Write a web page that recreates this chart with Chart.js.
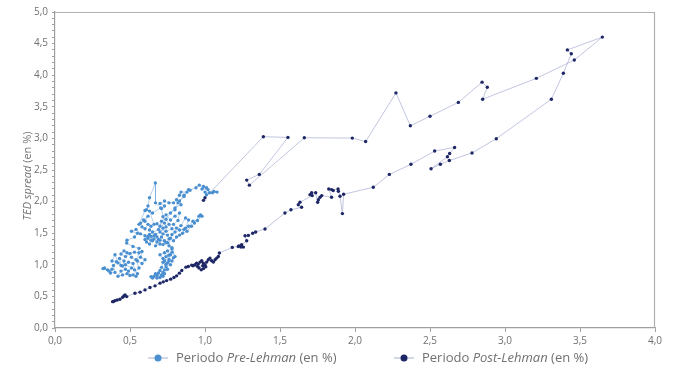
<!DOCTYPE html>
<html>
<head>
<meta charset="utf-8">
<script src="https://cdn.jsdelivr.net/npm/chart.js@4/dist/chart.umd.min.js"></script>
<style>
  html, body { margin: 0; padding: 0; background: #fff; }
  #wrap { width: 673px; height: 371px; position: relative; }
</style>
</head>
<body>
<div id="wrap"><canvas id="myChart" width="673" height="371"></canvas></div>
<script>
// Pre-Lehman period (x, y pairs in %)
const preX = [
  0.33,0.35,0.32,0.36,0.38,0.37,0.40,0.39,0.41,0.38,0.40,0.42,0.44,0.43,0.46,0.45,0.47,0.44,0.42,0.45,
  0.48,0.50,0.49,0.51,0.47,0.49,0.52,0.53,0.55,0.54,0.52,0.56,0.54,0.51,0.48,0.46,0.44,0.47,0.50,0.53,
  0.56,0.58,0.57,0.60,0.58,0.55,
  0.56,0.52,0.478,0.48,0.53,0.55,0.51,0.54,0.57,0.60,0.62,0.61,0.63,0.65,0.64,0.66,0.68,0.67,0.70,0.69,
  0.71,0.73,0.72,0.74,0.76,0.75,0.72,0.70,0.67,0.65,0.63,0.64,0.62,0.60,0.58,0.57,0.60,0.62,0.59,0.56,
  0.60,0.61,0.62,0.63,0.669,0.67,0.705,0.65,0.63,0.66,0.68,0.70,0.71,0.72,0.74,0.73,0.72,0.71,0.73,0.70,
  0.73,0.76,0.79,0.81,0.83,0.84,0.88,0.86,0.82,0.80,
  0.74,0.77,0.80,0.83,0.82,0.79,0.81,0.84,0.87,0.89,0.87,0.85,0.81,0.79,0.83,0.88,0.91,0.93,0.96,0.97,
  0.98,0.95,0.92,0.89,0.86,0.83,0.80,0.78,0.77,0.76,0.78,0.75,
  0.77,0.79,0.78,0.76,0.74,0.73,0.75,0.77,0.74,0.72,0.71,0.73,0.72,0.70,0.69,0.71,0.68,0.67,0.66,0.64,
  0.65,0.68,0.70,0.72,0.73,0.75,0.74,0.76,0.72,0.70,0.73,0.76,0.78,0.80,
  0.78,0.75,0.70,0.68,0.66,0.64,0.62,0.60,0.63,0.69,0.74,0.78,0.76,0.74,0.77,0.80,0.84,0.83,0.86,0.89,
  0.90,0.94,0.962,0.99,1.01,0.98,1.02,1.03,1.06,1.08,1.05,1.00,1.01
];
const preY = [
  0.95,0.92,0.94,0.90,0.93,0.87,0.88,0.99,1.05,1.06,1.16,1.03,0.99,1.10,1.06,0.98,0.93,0.90,0.82,0.84,
  0.86,0.83,0.90,0.95,1.00,1.04,1.02,0.92,0.86,0.82,0.84,0.95,1.08,1.12,1.19,1.22,1.17,1.13,1.18,1.20,
  1.19,1.21,1.12,1.08,1.02,1.06,
  1.26,1.29,1.344,1.39,1.44,1.50,1.53,1.56,1.49,1.46,1.42,1.36,1.33,1.38,1.45,1.41,1.36,1.30,1.33,1.40,
  1.44,1.38,1.32,1.35,1.41,1.47,1.49,1.52,1.48,1.52,1.55,1.61,1.64,1.57,1.60,1.66,1.69,1.77,1.71,1.64,
  1.86,1.87,1.93,2.06,2.296,1.98,1.90,1.82,1.85,1.64,1.65,1.61,1.69,1.58,1.60,1.66,1.76,1.89,1.93,1.97,
  2.01,1.98,1.98,2.03,2.10,2.15,2.15,2.08,1.98,1.87,
  1.79,1.71,1.77,1.82,1.70,1.64,1.58,1.62,1.74,1.71,1.58,1.50,1.44,1.38,1.47,1.53,1.61,1.66,1.77,1.79,
  1.77,1.70,1.69,1.61,1.56,1.55,1.52,1.48,1.42,1.30,1.25,1.22,
  1.16,1.11,1.06,1.09,1.13,1.06,1.03,1.00,0.97,1.04,0.96,0.92,0.88,0.91,0.87,0.84,0.83,0.86,0.82,0.81,
  0.79,0.79,0.80,0.82,0.86,0.93,1.01,1.06,1.10,1.16,1.19,1.15,1.20,1.13,
  1.27,1.35,1.39,1.44,1.46,1.39,1.45,1.40,1.48,1.56,1.53,1.57,1.64,1.72,1.82,1.90,1.95,2.01,2.10,2.19,
  2.18,2.22,2.26,2.24,2.22,2.20,2.19,2.14,2.16,2.15,2.14,2.15,2.11
];

// Post-Lehman period
const postX = [
  0.99,1.00,1.389,1.553,1.362,1.278,1.296,1.662,1.982,2.071,2.273,2.369,2.50,2.689,2.847,2.882,2.851,3.209,3.462,3.649,
  3.416,3.442,3.389,3.309,2.942,2.78,2.629,2.569,2.507,2.616,2.631,2.664,2.531,2.373,2.229,2.122,1.924,1.916,1.90,1.889,
  1.887,1.855,1.844,1.825,1.844,1.778,1.767,1.756,1.751,1.738,1.711,1.70,1.715,1.633,1.622,1.644,1.573,1.533,1.40,1.338,
  1.318,1.289,1.267,1.278,1.244,1.227,1.24,1.256,1.222,1.182,1.096,1.089,1.078,1.067,1.056,1.044,1.033,1.022,1.011,1.00,
  0.989,0.978,0.967,0.955,0.944,0.933,0.96,0.975,0.99,1.005,0.985,0.95,0.92,0.911,0.889,0.873,0.845,0.829,0.811,0.793,
  0.771,0.744,0.722,0.70,0.667,0.633,0.60,0.567,0.533,0.478,0.467,0.46,0.451,0.433,0.415,0.40,0.39,0.384
];
const postY = [
  2.02,2.06,3.027,3.016,2.43,2.34,2.26,3.01,3.005,2.95,3.72,3.20,3.35,3.57,3.89,3.81,3.62,3.95,4.24,4.603,
  4.40,4.34,4.03,3.62,2.995,2.77,2.65,2.59,2.52,2.71,2.76,2.857,2.80,2.59,2.43,2.227,2.116,1.81,2.085,2.164,
  2.20,2.175,2.19,2.20,2.07,2.095,2.07,2.03,1.99,2.14,2.14,2.11,2.095,1.99,1.95,1.91,1.87,1.82,1.567,1.52,
  1.50,1.465,1.46,1.38,1.317,1.30,1.28,1.28,1.29,1.275,1.186,1.132,1.106,1.079,1.043,1.063,1.106,1.079,1.043,1.00,
  1.027,1.063,1.043,1.011,1.027,1.00,0.95,0.92,0.94,0.97,0.985,0.975,0.985,0.995,0.973,0.963,0.91,0.868,0.825,0.80,
  0.773,0.75,0.73,0.71,0.667,0.64,0.603,0.567,0.55,0.497,0.524,0.508,0.487,0.456,0.444,0.433,0.42,0.417
];

const xTicks = [0, 0.5, 1, 1.5, 2, 2.5, 3, 3.5, 4];
const yTitle = [{ t: 'TED spread', i: true }, { t: ' (en %)', i: false }];
const legendItems = [
  { parts: [{ t: 'Periodo ', i: false }, { t: 'Pre-Lehman', i: true }, { t: ' (en %)', i: false }], color: '#4a8fd0' },
  { parts: [{ t: 'Periodo ', i: false }, { t: 'Post-Lehman', i: true }, { t: ' (en %)', i: false }], color: '#1d2766' }
];

function toPoints(xs, ys) {
  return xs.map(function (x, k) { return { x: x, y: ys[k] }; });
}
function fmt(v) { return v.toFixed(1).replace('.', ','); }

const FONT = '"Open Sans", "Noto Sans", sans-serif';

function richWidth(ctx, parts, size) {
  let w = 0;
  parts.forEach(function (p) {
    ctx.font = (p.i ? 'italic ' : '') + size + 'px ' + FONT;
    w += ctx.measureText(p.t).width;
  });
  return w;
}
function drawRich(ctx, parts, x, y, size) {
  parts.forEach(function (p) {
    ctx.font = (p.i ? 'italic ' : '') + size + 'px ' + FONT;
    ctx.fillText(p.t, x, y);
    x += ctx.measureText(p.t).width;
  });
}

// frame, y-axis title, legend
const extras = {
  id: 'extras',
  beforeDatasetsDraw(chart) {
    const a = chart.chartArea, ctx = chart.ctx;
    ctx.save();
    ctx.strokeStyle = '#b0b0b0';
    ctx.lineWidth = 1.2;
    ctx.beginPath();
    ctx.moveTo(a.left, a.top + 0.5);
    ctx.lineTo(a.right - 0.5, a.top + 0.5);
    ctx.lineTo(a.right - 0.5, a.bottom);
    ctx.stroke();
    ctx.restore();
  },
  afterDraw(chart) {
    const a = chart.chartArea, ctx = chart.ctx;
    ctx.save();
    ctx.fillStyle = '#707070';
    ctx.textBaseline = 'middle';
    // y title
    const tw = richWidth(ctx, yTitle, 11);
    ctx.translate(28, (a.top + a.bottom) / 2 + 6);
    ctx.rotate(-Math.PI / 2);
    drawRich(ctx, yTitle, -tw / 2, 0, 11);
    ctx.restore();

    // legend
    const xs = [158, 404], ly = 358;
    legendItems.forEach(function (it, k) {
      ctx.save();
      ctx.strokeStyle = '#b8bfd6';
      ctx.lineWidth = 1.2;
      ctx.beginPath();
      ctx.moveTo(xs[k] - 10, ly);
      ctx.lineTo(xs[k] + 10, ly);
      ctx.stroke();
      ctx.fillStyle = it.color;
      ctx.beginPath();
      ctx.arc(xs[k], ly, 3.5, 0, Math.PI * 2);
      ctx.fill();
      ctx.fillStyle = '#707070';
      ctx.textBaseline = 'middle';
      drawRich(ctx, it.parts, xs[k] + 18, ly + 0.5, 13);
      ctx.restore();
    });
  }
};

const data = {
  datasets: [{
    label: 'Periodo Pre-Lehman (en %)',
    data: toPoints(preX, preY),
    showLine: true,
    borderColor: 'rgba(112,165,218,0.65)',
    borderWidth: 0.8,
    backgroundColor: '#4a8fd0',
    pointBackgroundColor: '#4a8fd0',
    pointBorderWidth: 0,
    pointRadius: 1.7
  }, {
    label: 'Periodo Post-Lehman (en %)',
    data: toPoints(postX, postY),
    showLine: true,
    borderColor: 'rgba(170,176,210,0.9)',
    borderWidth: 0.8,
    backgroundColor: '#1d2766',
    pointBackgroundColor: '#1d2766',
    pointBorderWidth: 0,
    pointRadius: 1.7
  }]
};

const config = {
  type: 'scatter',
  data,
  options: {
    responsive: false,
    animation: false,
    layout: { padding: { top: 12, right: 18, left: 0, bottom: 0 } },
    plugins: { legend: { display: false }, tooltip: { enabled: false } },
    scales: {
      x: {
        type: 'linear',
        min: 0, max: 4,
        afterBuildTicks: function (s) { s.ticks = xTicks.map(function (v) { return { value: v }; }); },
        afterFit: function (s) { s.height = 43; },
        grid: { drawOnChartArea: false, tickLength: 4, color: '#a0a0a0' },
        border: { color: '#a0a0a0', width: 1.2 },
        ticks: { color: '#707070', font: { family: FONT, size: 10 }, padding: 3, maxRotation: 0, autoSkip: false,
          callback: function (v) { return fmt(v); } }
      },
      y: {
        min: 0, max: 5,
        afterBuildTicks: function (s) {
          const t = [];
          for (let k = 0; k <= 50; k++) t.push({ value: k / 10 });
          s.ticks = t;
        },
        afterFit: function (s) { s.width = 55; },
        grid: { drawOnChartArea: false, tickLength: 3, color: '#a0a0a0' },
        border: { color: '#a0a0a0', width: 1.2 },
        ticks: { color: '#707070', font: { family: FONT, size: 10 }, padding: 4, autoSkip: false,
          callback: function (v) { return Math.abs(v * 2 - Math.round(v * 2)) < 1e-6 ? fmt(v) : ''; } }
      }
    }
  },
  plugins: [extras]
};

const myChart = new Chart(document.getElementById('myChart'), config);
</script>
</body>
</html>
